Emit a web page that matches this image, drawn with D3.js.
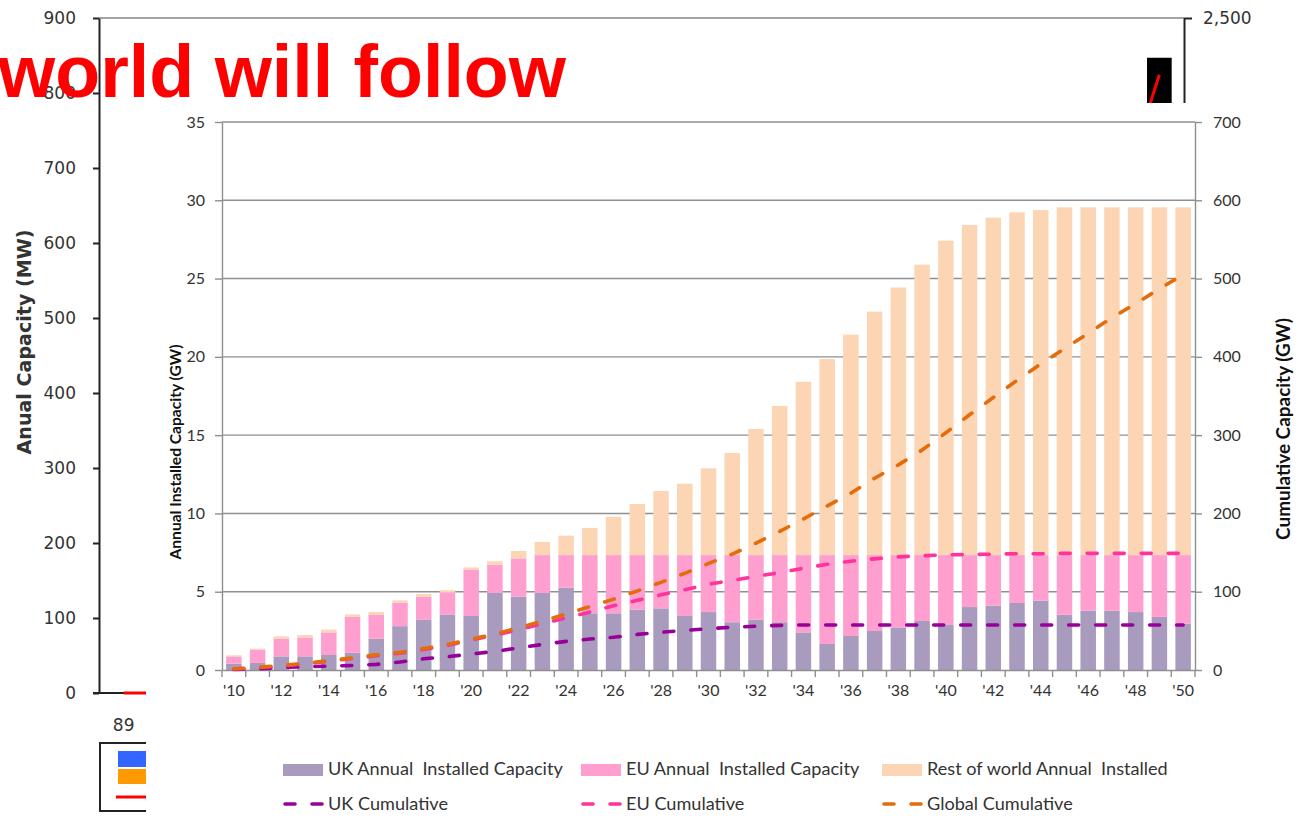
<!DOCTYPE html>
<html><head><meta charset="utf-8">
<script src="https://cdn.jsdelivr.net/npm/d3@7"></script>
<style>
html,body{margin:0;padding:0;background:#fff;}
svg{display:block;}
text{white-space:pre;}
</style></head><body>
<svg id="c" width="1301" height="822"></svg>
<script>
// ---- Offshore wind build-out, 2010-2050 (GW) ----
const years = [2010,2011,2012,2013,2014,2015,2016,2017,2018,2019,2020,2021,2022,2023,2024,2025,2026,2027,2028,2029,2030,
               2031,2032,2033,2034,2035,2036,2037,2038,2039,2040,2041,2042,2043,2044,2045,2046,2047,2048,2049,2050];
const ukAnnual = [0.40,0.45,0.87,0.87,0.96,1.10,2.00,2.80,3.23,3.55,3.45,4.92,4.68,4.92,5.26,3.62,3.62,3.85,3.94,3.45,3.70,
                  3.05,3.21,3.05,2.40,1.66,2.17,2.49,2.72,3.13,2.87,4.02,4.11,4.28,4.43,3.53,3.79,3.79,3.70,3.39,2.97];
const euAnnual = [0.47,0.85,1.13,1.21,1.44,2.30,1.53,1.50,1.45,1.41,2.97,1.81,2.45,2.42,2.08,3.72,3.72,3.49,3.40,3.89,3.64,
                  4.29,4.13,4.29,4.94,5.68,5.17,4.85,4.62,4.21,4.47,3.32,3.23,3.06,2.91,3.81,3.55,3.55,3.64,3.95,4.37];
const rowAnnual = [0.07,0.06,0.15,0.15,0.18,0.15,0.17,0.15,0.17,0.14,0.13,0.21,0.47,0.84,1.24,1.73,2.45,3.26,4.09,4.56,5.54,
                   6.52,8.05,9.52,11.07,12.52,14.08,15.55,17.09,18.55,20.08,21.08,21.55,21.89,22.04,22.21,22.21,22.21,22.21,22.21,22.21];
const ukCumulative = [0.7,1.5,3.2,4.2,5.0,5.8,7.2,10.2,14.3,17.0,20.3,23.8,28.3,32.6,36.6,39.5,41.8,45.5,48.2,50.6,52.8,
                      54.6,56.0,57.0,57.5,57.5,57.5,57.5,57.5,57.5,57.5,57.5,57.5,57.5,57.5,57.5,57.5,57.5,57.5,57.5,57.5];
const euCumulative = [1.2,2.9,5.2,7.8,11.2,14.6,18.2,21.5,26.2,31.2,38.5,44.5,51.5,59,66.5,74,82,89,96,102.5,109.5,
                      114.5,119.5,124.5,130,135,139,142,144.5,146,147,147.5,148,148.5,148.5,149,149,149,149,149,149];
const globalCumulative = [1.5,3.3,5.8,8.5,12,15.5,19.3,22.5,27.5,32.5,39.5,46,54,62.5,71.5,81,90.5,101,112,123.5,136,
                          148,162,177,193,209.5,226,245,262,281,303,326,348,370,391,410.5,430,450,468,487,505];
const leftTicks = [0,5,10,15,20,25,30,35];
const rightTicks = [0,100,200,300,400,500,600,700];
const labeledYears = [2010,2012,2014,2016,2018,2020,2022,2024,2026,2028,2030,2032,2034,2036,2038,2040,2042,2044,2046,2048,2050];
const yearLabels = ["'10","'12","'14","'16","'18","'20","'22","'24","'26","'28","'30","'32","'34","'36","'38","'40","'42","'44","'46","'48","'50"];

// ---- Earlier chart behind (MW) ----
const bgCategories = ["89","90","91","92","93","94","95","96","97","98","99","00","01","02","03","04","05","06","07","08","09","10"];
const bgLeftTicks = [0,100,200,300,400,500,600,700,800,900];
const bgRightTicks = [2500];
const bgBarCats = ["10"];
const bgBarValues = [847];
const bgCumCats = ["89","90","09","10"];
const bgCumValues = [0,0,1720,2290];

const svg = d3.select('#c');

function fitWidth(t, w) {
  const L = t.node().getComputedTextLength();
  const fs = parseFloat(t.attr('font-size'));
  t.attr('font-size', (fs * w / L).toFixed(2));
}

// ================= background chart =================
const bg = svg.append('g');
const bgX = d3.scaleBand().domain(bgCategories).range([99, 1184]);
const bgY = d3.scaleLinear().domain([0, 900]).range([693, 18]);
const bgY2 = d3.scaleLinear().domain([0, 2500]).range([693, 18]);
const bgFont = "'DejaVu Sans', sans-serif";

bg.append('line').attr('x1', 99).attr('x2', 1184).attr('y1', bgY(900)).attr('y2', bgY(900))
  .attr('stroke', '#a3a3a3').attr('stroke-width', 2);

bg.selectAll('rect.bgbar').data(bgBarCats.map((c, i) => ({c, v: bgBarValues[i]}))).join('rect')
  .attr('x', d => bgX(d.c) + bgX.bandwidth() * 0.25).attr('width', bgX.bandwidth() * 0.5)
  .attr('y', d => bgY(d.v)).attr('height', d => bgY(0) - bgY(d.v)).attr('fill', '#000');

const bgLeft = bg.append('g').attr('transform', 'translate(99,0)')
  .call(d3.axisLeft(bgY).tickValues(bgLeftTicks).tickSize(6).tickPadding(17).tickSizeOuter(0));
const bgRight = bg.append('g').attr('transform', 'translate(1184,0)')
  .call(d3.axisRight(bgY2).tickValues(bgRightTicks).tickFormat(d3.format(',')).tickSize(8).tickPadding(11).tickSizeOuter(0));
const bgBottom = bg.append('g').attr('transform', 'translate(0,693)')
  .call(d3.axisBottom(bgX).tickValues(['89']).tickSize(0).tickPadding(26).tickSizeOuter(0));
bgBottom.select('.domain').attr('d', 'M93,0H1184');
[bgLeft, bgRight, bgBottom].forEach(g => {
  g.select('.domain').attr('stroke', '#222').attr('stroke-width', 2);
  g.selectAll('.tick line').attr('stroke', '#222').attr('stroke-width', 2);
  g.selectAll('text').attr('font-family', bgFont).attr('font-size', 17).attr('fill', '#333');
});

const bgLine = d3.line().x(d => bgX(d.c) + bgX.bandwidth() / 2).y(d => bgY2(d.v));
bg.append('path').datum(bgCumCats.map((c, i) => ({c, v: bgCumValues[i]})))
  .attr('d', bgLine).attr('fill', 'none').attr('stroke', '#ff0000').attr('stroke-width', 3);

const bgTitle = bg.append('text').attr('transform', 'translate(31,342) rotate(-90)')
  .attr('text-anchor', 'middle').attr('font-family', bgFont).attr('font-weight', 'bold')
  .attr('font-size', 16).attr('fill', '#333').text('Anual Capacity (MW)');
fitWidth(bgTitle, 225);

// legend of the background chart
bg.append('rect').attr('x', 100).attr('y', 743).attr('width', 90).attr('height', 68)
  .attr('fill', '#fff').attr('stroke', '#222').attr('stroke-width', 2);
bg.append('rect').attr('x', 118).attr('y', 751).attr('width', 50).attr('height', 16).attr('fill', '#3366ff');
bg.append('rect').attr('x', 118).attr('y', 769).attr('width', 50).attr('height', 15).attr('fill', '#ff9900');
bg.append('line').attr('x1', 116).attr('x2', 170).attr('y1', 797).attr('y2', 797).attr('stroke', '#ff0000').attr('stroke-width', 3);

// ================= foreground chart =================
const fg = svg.append('g');
fg.append('rect').attr('x', 146).attr('y', 103).attr('width', 1155).attr('height', 719).attr('fill', '#fff');

const font = "Lato, 'Open Sans', sans-serif";
const grey = '#8f8f8f';
const x = d3.scaleBand().domain(years).range([222, 1195]).paddingInner(0.347).paddingOuter(0.1735);
const yL = d3.scaleLinear().domain([0, 35]).range([670, 122]);
const yR = d3.scaleLinear().domain([0, 700]).range([670, 122]);
const bw = x.bandwidth();

fg.selectAll('line.grid').data(leftTicks.filter(d => d > 0)).join('line')
  .attr('x1', 222).attr('x2', 1195).attr('y1', d => yL(d)).attr('y2', d => yL(d))
  .attr('stroke', grey).attr('stroke-width', 1.4);

const table = years.map((y, i) => ({year: y, uk: ukAnnual[i], eu: euAnnual[i], row: rowAnnual[i]}));
const stacked = d3.stack().keys(['uk', 'eu', 'row'])(table);
const barColors = {uk: '#a89bbd', eu: '#ff9fcf', row: '#fcd5b5'};
fg.selectAll('g.layer').data(stacked).join('g').attr('fill', d => barColors[d.key])
  .selectAll('rect').data(d => d).join('rect')
  .attr('x', d => x(d.data.year)).attr('width', bw)
  .attr('y', d => yL(d[1])).attr('height', d => yL(d[0]) - yL(d[1]));

const leftAxis = fg.append('g').attr('transform', 'translate(222,0)')
  .call(d3.axisLeft(yL).tickValues(leftTicks).tickSize(7).tickPadding(10).tickSizeOuter(0));
const rightAxis = fg.append('g').attr('transform', 'translate(1195,0)')
  .call(d3.axisRight(yR).tickValues(rightTicks).tickSize(7).tickPadding(11).tickSizeOuter(0));
[leftAxis, rightAxis].forEach(g => {
  g.select('.domain').attr('stroke', grey).attr('stroke-width', 1.4);
  g.selectAll('.tick line').attr('stroke', grey).attr('stroke-width', 1.4);
  g.selectAll('text').attr('font-family', font).attr('font-size', 16).attr('fill', '#333');
});

// category axis: ticks at slot boundaries, labels every other year
const bottomAxis = fg.append('g').attr('transform', 'translate(0,670)')
  .call(d3.axisBottom(x).tickValues(labeledYears).tickFormat((d, i) => yearLabels[i]).tickSize(0).tickPadding(15).tickSizeOuter(0));
bottomAxis.select('.domain').attr('stroke', grey).attr('stroke-width', 1.4);
bottomAxis.selectAll('text').attr('font-family', font).attr('font-size', 16).attr('fill', '#333');
const half = (x.step() - bw) / 2;
fg.selectAll('line.xt').data(years.map(y => x(y) - half).concat([1195])).join('line')
  .attr('x1', d => d).attr('x2', d => d).attr('y1', 670).attr('y2', 677)
  .attr('stroke', grey).attr('stroke-width', 1.4);

// cumulative lines on the secondary axis
const line = d3.line().x((d, i) => x(years[i]) + bw / 2).y(d => yR(d));
const lineSeries = [
  {values: ukCumulative, color: '#990099'},
  {values: euCumulative, color: '#ff3399'},
  {values: globalCumulative, color: '#e46c0a'}
];
const dash = '10 17';
fg.selectAll('path.cum').data(lineSeries).join('path')
  .attr('d', d => line(d.values)).attr('fill', 'none').attr('stroke', d => d.color)
  .attr('stroke-width', 3.6).attr('stroke-linecap', 'round').attr('stroke-dasharray', dash);

// axis titles
const lt = fg.append('text').attr('transform', 'translate(181,452) rotate(-90)')
  .attr('text-anchor', 'middle').attr('font-family', font).attr('font-weight', 'bold')
  .attr('font-size', 15).attr('fill', '#111').text('Annual Installed Capacity (GW)');
fitWidth(lt, 215);
const rt = fg.append('text').attr('transform', 'translate(1290,429) rotate(-90)')
  .attr('text-anchor', 'middle').attr('font-family', font).attr('font-weight', 'bold')
  .attr('font-size', 15).attr('fill', '#111').text('Cumulative Capacity (GW)');
fitWidth(rt, 222);

// legend
const legendBars = [
  {label: 'UK Annual  Installed Capacity', color: barColors.uk, x: 283},
  {label: 'EU Annual  Installed Capacity', color: barColors.eu, x: 581},
  {label: 'Rest of world Annual  Installed', color: barColors.row, x: 882}
];
const legendLines = [
  {label: 'UK Cumulative', color: '#990099', x: 283},
  {label: 'EU Cumulative', color: '#ff3399', x: 581},
  {label: 'Global Cumulative', color: '#e46c0a', x: 882}
];
const probe = fg.append('text').attr('font-family', font).attr('font-size', 16).text(legendBars[0].label);
fitWidth(probe, 235);
const legendSize = probe.attr('font-size');
probe.remove();

const lb = fg.selectAll('g.lb').data(legendBars).join('g').attr('transform', d => `translate(${d.x},0)`);
lb.append('rect').attr('x', 0).attr('y', 764).attr('width', 40).attr('height', 12).attr('fill', d => d.color);
lb.append('text').attr('x', 45).attr('y', 775).attr('font-family', font).attr('font-size', legendSize)
  .attr('fill', '#333').text(d => d.label);

const ll = fg.selectAll('g.ll').data(legendLines).join('g').attr('transform', d => `translate(${d.x},0)`);
ll.append('line').attr('x1', 2).attr('x2', 40).attr('y1', 804).attr('y2', 804)
  .attr('stroke', d => d.color).attr('stroke-width', 3.6).attr('stroke-linecap', 'round').attr('stroke-dasharray', dash);
ll.append('text').attr('x', 45).attr('y', 810).attr('font-family', font).attr('font-size', legendSize)
  .attr('fill', '#333').text(d => d.label);

// ================= overlaid heading =================
const head = svg.append('text').attr('x', 566).attr('y', 97).attr('text-anchor', 'end')
  .attr('font-family', "'Liberation Sans', Arial, sans-serif").attr('font-weight', 'bold')
  .attr('font-size', 73).attr('fill', '#ff0000').text('world will follow');
fitWidth(head, 568);
</script>
</body></html>
